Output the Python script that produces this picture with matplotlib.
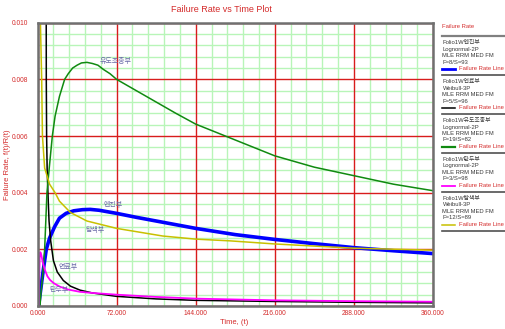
import matplotlib
matplotlib.use("Agg")
import matplotlib.pyplot as plt
from matplotlib.lines import Line2D
import numpy as np

# ---------------- data ----------------
title = "Failure Rate vs Time Plot"
x_label = "Time, (t)"
y_label = "Failure Rate, f(t)/R(t)"
x_ticks = [0, 72, 144, 216, 288, 360]
y_ticks = [0.000, 0.002, 0.004, 0.006, 0.008, 0.010]

# 엔진부 (blue, Lognormal-2P)
engine_t = [1, 3, 5, 8, 11, 15.6, 20, 26, 33, 41, 48, 56, 72, 90, 108, 126, 144, 180, 216, 252, 288, 324, 360]
engine_v = [0, 0.0006, 0.0012, 0.002, 0.0024, 0.0028, 0.0031, 0.00327, 0.00336, 0.0034, 0.00341, 0.00338,
            0.00327, 0.00313, 0.003, 0.00287, 0.00274, 0.00252, 0.00235, 0.0022, 0.00206, 0.00195, 0.00185]

# 연료부 (black, Weibull-3P)
fuel_t = [7.9, 8.0, 8.3, 8.8, 9.5, 10.5, 12, 14.5, 18, 23.5, 30, 38.7, 50, 72, 108, 144, 216, 288, 360]
fuel_v = [0.012, 0.008, 0.006, 0.0048, 0.004, 0.003, 0.0023, 0.0016, 0.0012, 0.0009, 0.0007, 0.00056,
          0.00046, 0.00034, 0.00025, 0.0002, 0.00016, 0.00013, 0.00011]

# 유도조종부 (green, Lognormal-2P)
guide_t = [2.3, 3, 5, 6.5, 8.6, 11, 13.5, 16, 20, 24.7, 28, 32, 36, 40, 45, 50, 55, 60, 66, 72, 90, 108, 126,
           144, 171, 216, 252, 288, 324, 360]
guide_v = [0, 0.0004, 0.0012, 0.002, 0.004, 0.005, 0.006, 0.0067, 0.0074, 0.008, 0.0082, 0.0084, 0.0085,
           0.00858, 0.0086, 0.00856, 0.0085, 0.00835, 0.0082, 0.008, 0.0076, 0.0072, 0.0068, 0.00642, 0.006,
           0.0053, 0.0049, 0.0046, 0.0043, 0.00407]

# 탄두부 (magenta, Lognormal-2P)
warhead_t = [1.2, 1.6, 2.0, 2.6, 3.5, 5, 6.8, 9, 11.4, 15, 20.5, 28, 38.7, 50, 72, 108, 144, 216, 288, 360]
warhead_v = [0, 0.001, 0.0017, 0.0019, 0.0018, 0.0015, 0.00127, 0.00105, 0.00092, 0.0008, 0.00068, 0.00058,
             0.0005, 0.00046, 0.0004, 0.00032, 0.00026, 0.0002, 0.00017, 0.00015]

# 탐색부 (yellow, Weibull-3P)
seeker_t = [2.3, 2.6, 3.8, 4.5, 6.5, 11, 16, 20, 30, 45, 72, 114, 144, 175, 216, 288, 360]
seeker_v = [0.012, 0.0101, 0.008, 0.006, 0.00487, 0.0043, 0.004, 0.0037, 0.0033, 0.003, 0.00274, 0.00247,
            0.00236, 0.0023, 0.00219, 0.00204, 0.00197]

legend_names = ["Folio1W엔진부", "Folio1W연료부", "Folio1W유도조종부", "Folio1W탄두부", "Folio1W탐색부"]
legend_dists = ["Lognormal-2P", "Weibull-3P", "Lognormal-2P", "Lognormal-2P", "Weibull-3P"]
legend_fs = ["F=8/S=93", "F=5/S=96", "F=19/S=82", "F=3/S=98", "F=12/S=89"]
curve_labels = ["엔진부", "연료부", "유도조종부", "탄두부", "탐색부"]

# ---------------- styling ----------------
RED = "#d42a2a"
FONT = ["Liberation Sans", "Noto Sans CJK KR", "DejaVu Sans"]
plt.rcParams["font.family"] = FONT

W, H = 506, 329
fig = plt.figure(figsize=(W / 100, H / 100), dpi=100)
ax = fig.add_axes([37.5 / W, 1 - 306 / H, (433 - 37.5) / W, (306 - 22.7) / H])

ax.set_xlim(0, 360)
ax.set_ylim(0, 0.010)

# grid: minor green, major red
for k in range(26):
    if k % 5:
        ax.axvline(k * 14.4, color="#b8f5b8", lw=1.0, zorder=0)
for k in range(26):
    if k % 5:
        ax.axhline(k * 0.0004, color="#b8f5b8", lw=1.0, zorder=0)
for t in x_ticks:
    ax.axvline(t, color="#d81c1c", lw=1.0, zorder=0.5)
for v in y_ticks:
    ax.axhline(v, color="#d81c1c", lw=1.0, zorder=0.5)

series = [
    (engine_t, engine_v, "#0000ff", 2.6),
    (fuel_t, fuel_v, "#000000", 1.1),
    (guide_t, guide_v, "#108a10", 1.1),
    (warhead_t, warhead_v, "#ff00ff", 1.3),
    (seeker_t, seeker_v, "#c8c000", 1.1),
]
for t, v, c, lw in series:
    ax.plot(t, v, color=c, lw=lw, zorder=3, solid_joinstyle="round")

# curve annotations
ann_pos = [(60.5, 0.00356), (18.9, 0.00137), (56.2, 0.00862), (10.5, 0.00053), (43.2, 0.00266)]
for lab, (tx, vy) in zip(curve_labels, ann_pos):
    ax.text(tx, vy, lab, color="#6a6aa8", fontsize=5, ha="left", va="center", zorder=4)

ax.set_xticks(x_ticks)
ax.set_yticks(y_ticks)
ax.set_xticklabels([f"{t:.3f}" for t in x_ticks], color=RED, fontsize=4.8)
ax.set_yticklabels([f"{v:.3f}" for v in y_ticks], color=RED, fontsize=4.8)
ax.tick_params(axis="x", length=0, pad=3)
ax.tick_params(axis="y", length=0, pad=7)
for s in ax.spines.values():
    s.set_color("#707070")
    s.set_linewidth(1.8)
    s.set_zorder(5)

fig.text(221 / W, 1 - 10 / H, title, color=RED, fontsize=6.5, ha="center", va="center")
fig.text(234 / W, 1 - 322 / H, x_label, color=RED, fontsize=5.5, ha="center", va="center")
fig.text(8 / W, 1 - 165 / H, y_label, color=RED, fontsize=5.5, ha="center", va="center", rotation=90)

# legend (manual)
def fy(py):
    return 1 - py / H

LX = 442.5
LFS = 4.2
fig.text(LX / W, fy(26.7), "Failure Rate", color=RED, fontsize=LFS, ha="left", va="center")
fig.add_artist(Line2D([LX / W, 1.0], [fy(35.7), fy(35.7)], color="#808080", lw=1.6))
colors = [s[2] for s in series]
lws = [2.0, 1.1, 1.6, 1.3, 1.1]
y0 = 42.7
step = 38.9
for i in range(5):
    base = y0 + i * step
    lines = [legend_names[i], legend_dists[i], "MLE RRM MED FM", legend_fs[i]]
    for j, txt in enumerate(lines):
        fig.text(LX / W, fy(base + j * 6.5), txt, color="#3a3a3a", fontsize=LFS, ha="left", va="center")
    ly = base + 26.2
    fig.add_artist(Line2D([LX / W, 455 / W], [fy(ly), fy(ly)], color=colors[i], lw=lws[i]))
    fig.text(459 / W, fy(ly), "Failure Rate Line", color=RED, fontsize=LFS, ha="left", va="center")
    sy = base + 32.5
    fig.add_artist(Line2D([LX / W, 1.0], [fy(sy), fy(sy)], color="#505050", lw=1.2))

fig.savefig("out.png", dpi=100)
